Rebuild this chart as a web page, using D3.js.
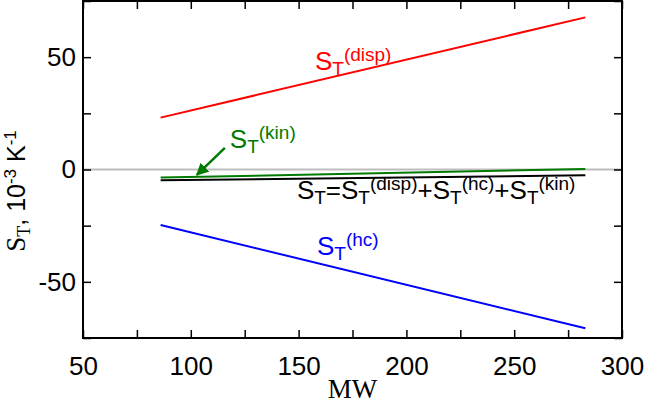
<!DOCTYPE html>
<html>
<head>
<meta charset="utf-8">
<script src="https://cdn.jsdelivr.net/npm/d3@7"></script>
<style>
  body { margin: 0; background: #fff; }
  svg { display: block; }
</style>
</head>
<body>
<svg id="chart" width="645" height="403"></svg>
<script>
// data (x in MW, y in 1e-3 K^-1)
const mw = [86, 283];
const sDisp = [23.1, 67.7];
const sHc = [-24.7, -70.7];
const sKin = [-3.6, 0.2];
const sTotal = [-4.8, -2.6];

const xTicks = [50, 75, 100, 125, 150, 175, 200, 225, 250, 275, 300];
const yTicks = [-75, -50, -25, 0, 25, 50, 75];

const width = 645, height = 403;
const margin = { top: 1, right: 23, bottom: 65, left: 83 };

const svg = d3.select('#chart');

const x = d3.scaleLinear().domain([50, 300]).range([margin.left, width - margin.right]);
const y = d3.scaleLinear().domain([-75, 75]).range([height - margin.bottom, margin.top]);

const sans = 'Liberation Sans, Arial, sans-serif';
const serif = 'Liberation Serif, Times New Roman, serif';
const fmt = d => (d % 50 === 0 ? d : '');

// zero line
svg.append('line')
    .attr('x1', x(50)).attr('x2', x(300))
    .attr('y1', y(0)).attr('y2', y(0))
    .attr('stroke', '#bdbdbd')
    .attr('stroke-width', 2);

// series
const series = [
    { vals: sDisp, color: '#ff0000' },
    { vals: sHc, color: '#0000ff' },
    { vals: sTotal, color: '#000000' },
    { vals: sKin, color: '#007a00' }
];
const line = d3.line().x(d => x(d[0])).y(d => y(d[1]));
series.forEach(s => {
    svg.append('path')
        .datum(mw.map((m, i) => [m, s.vals[i]]))
        .attr('d', line)
        .attr('fill', 'none')
        .attr('stroke', s.color)
        .attr('stroke-width', 2);
});

// axes, ticks pointing inward on all four sides
function styleAxis(g) {
    g.select('.domain').remove();
    g.selectAll('.tick line').attr('stroke', '#000').attr('stroke-width', 1.5);
    g.selectAll('.tick text').attr('fill', '#000').style('font-family', sans).style('font-size', '26px');
}
svg.append('g')
    .attr('transform', `translate(0,${y(-75)})`)
    .call(d3.axisBottom(x).tickValues(xTicks).tickFormat(fmt).tickSizeInner(-8).tickSizeOuter(0).tickPadding(19))
    .call(styleAxis);
svg.append('g')
    .attr('transform', `translate(0,${y(75)})`)
    .call(d3.axisTop(x).tickValues(xTicks).tickFormat('').tickSizeInner(-8).tickSizeOuter(0))
    .call(styleAxis);
svg.append('g')
    .attr('transform', `translate(${x(50)},0)`)
    .call(d3.axisLeft(y).tickValues(yTicks).tickFormat(fmt).tickSizeInner(-8).tickSizeOuter(0).tickPadding(7))
    .call(styleAxis);
svg.append('g')
    .attr('transform', `translate(${x(300)},0)`)
    .call(d3.axisRight(y).tickValues(yTicks).tickFormat('').tickSizeInner(-8).tickSizeOuter(0))
    .call(styleAxis);

// frame
svg.append('rect')
    .attr('x', x(50)).attr('y', y(75))
    .attr('width', x(300) - x(50)).attr('height', y(-75) - y(75))
    .attr('fill', 'none')
    .attr('stroke', '#000')
    .attr('stroke-width', 2);

// axis titles
svg.append('text')
    .attr('x', (x(50) + x(300)) / 2)
    .attr('y', 398)
    .attr('text-anchor', 'middle')
    .style('font-family', serif)
    .style('font-size', '27px')
    .text('MW');

const yt = svg.append('text')
    .attr('transform', 'translate(25,191) rotate(-90)')
    .attr('text-anchor', 'middle')
    .style('font-family', sans)
    .style('font-size', '25px');
yt.append('tspan').style('font-family', serif).style('font-size', '27px').text('S');
yt.append('tspan').style('font-family', serif).style('font-size', '18px').attr('dy', 5).text('T');
yt.append('tspan').attr('dy', -5).text(', 10');
yt.append('tspan').style('font-size', '17px').attr('dy', -9).text('-3');
yt.append('tspan').attr('dy', 9).text(' K');
yt.append('tspan').style('font-size', '17px').attr('dy', -9).text('-1');

// series labels: S_T with superscript
const big = '26px', small = '19px';
function sLabel(t, sup) {
    t.append('tspan').text('S');
    t.append('tspan').style('font-size', small).attr('dy', 5).text('T');
    t.append('tspan').style('font-size', small).attr('dy', -14).text(sup);
}
function label(px, py, color) {
    return svg.append('text')
        .attr('x', x(px)).attr('y', y(py))
        .attr('fill', color)
        .style('font-family', sans)
        .style('font-size', big);
}
sLabel(label(157.6, 44.3, '#ff0000'), '(disp)');
sLabel(label(158.5, -38.1, '#0000ff'), '(hc)');
sLabel(label(118.1, 9.6, '#007a00'), '(kin)');

const tot = label(149.2, -13.1, '#000');
tot.append('tspan').text('S');
tot.append('tspan').style('font-size', small).attr('dy', 5).text('T');
tot.append('tspan').attr('dy', -5).text('=S');
tot.append('tspan').style('font-size', small).attr('dy', 5).text('T');
tot.append('tspan').style('font-size', small).attr('dy', -14).text('(disp)');
tot.append('tspan').attr('dy', 9).text('+S');
tot.append('tspan').style('font-size', small).attr('dy', 5).text('T');
tot.append('tspan').style('font-size', small).attr('dy', -14).text('(hc)');
tot.append('tspan').attr('dy', 9).text('+S');
tot.append('tspan').style('font-size', small).attr('dy', 5).text('T');
tot.append('tspan').style('font-size', small).attr('dy', -14).text('(kin)');

// arrow to the kinetic line
svg.append('defs').append('marker')
    .attr('id', 'arrow')
    .attr('viewBox', '0 0 10 10')
    .attr('refX', 9).attr('refY', 5)
    .attr('markerWidth', 5).attr('markerHeight', 5)
    .attr('markerUnits', 'strokeWidth')
    .attr('orient', 'auto')
    .append('path')
    .attr('d', 'M0,0L10,5L0,10z')
    .attr('fill', '#007a00');
svg.append('line')
    .attr('x1', x(115.8)).attr('y1', y(9.6))
    .attr('x2', x(102.8)).attr('y2', y(-2.4))
    .attr('stroke', '#007a00')
    .attr('stroke-width', 2.5)
    .attr('marker-end', 'url(#arrow)');
</script>
</body>
</html>
